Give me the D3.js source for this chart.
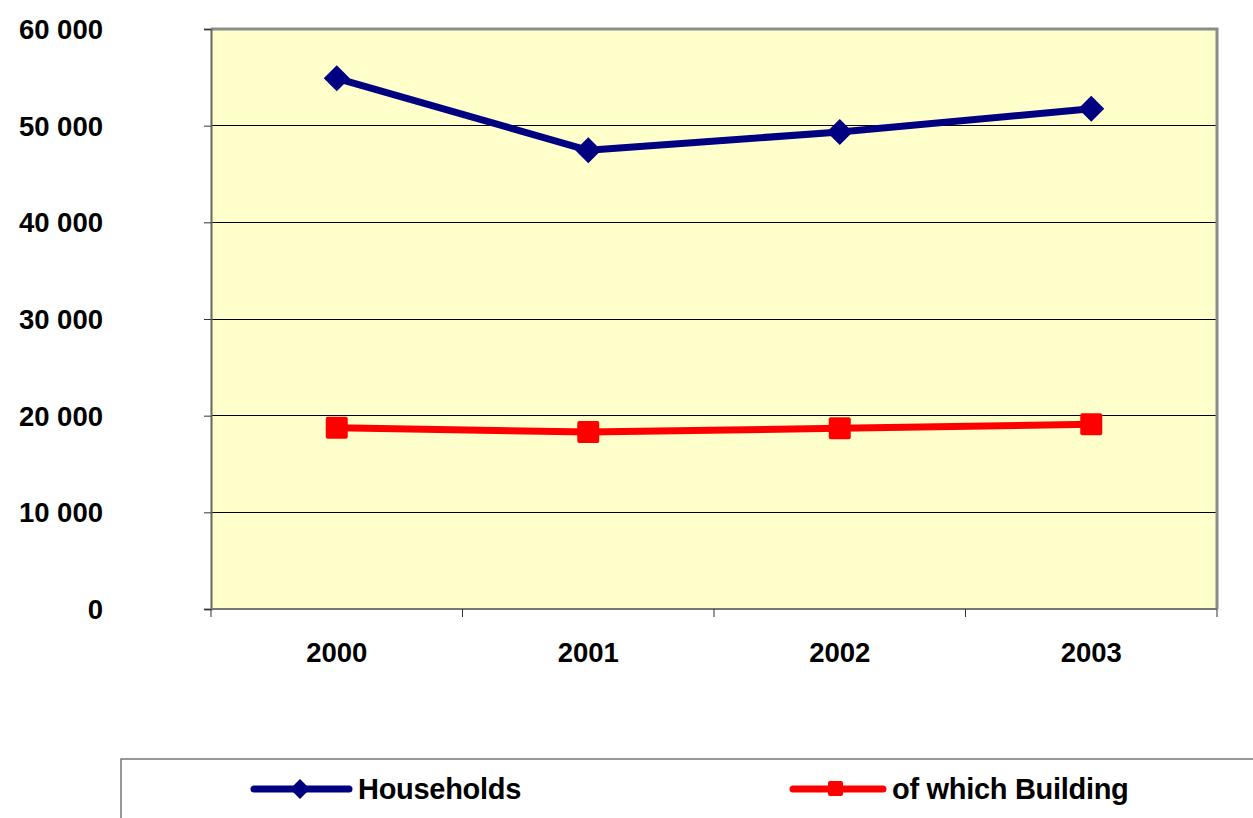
<!DOCTYPE html>
<html>
<head>
<meta charset="utf-8">
<script src="https://cdn.jsdelivr.net/npm/d3@7"></script>
<style>
  html, body { margin: 0; padding: 0; background: #fff; }
  svg { display: block; }
  text { font-family: "Liberation Sans", Arial, sans-serif; font-weight: bold; fill: #000; }
</style>
</head>
<body>
<svg id="chart" width="1253" height="818"></svg>
<script>
// Data
const years = ["2000", "2001", "2002", "2003"];
const households = [54900, 47450, 49350, 51750];
const building = [18750, 18300, 18700, 19100];
const yTicks = [0, 10000, 20000, 30000, 40000, 50000, 60000];
const seriesNames = ["Households", "of which Building"];

const W = 1253, H = 818;
const plot = { left: 211, top: 29, right: 1217, bottom: 609 };

const svg = d3.select("#chart");

const x = d3.scaleBand().domain(years).range([plot.left, plot.right]).padding(0);
const y = d3.scaleLinear().domain([0, 60000]).range([plot.bottom, plot.top]);

const fmt = v => d3.format(",")(v).replace(/,/g, " ");

// Plot background
svg.append("rect")
  .attr("x", plot.left).attr("y", plot.top)
  .attr("width", plot.right - plot.left).attr("height", plot.bottom - plot.top)
  .attr("fill", "#FFFFCC");

// Gridlines
svg.append("g")
  .selectAll("line")
  .data(yTicks.filter(t => t > 0 && t < 60000))
  .join("line")
  .attr("x1", plot.left).attr("x2", plot.right)
  .attr("y1", d => y(d)).attr("y2", d => y(d))
  .attr("stroke", "#000").attr("stroke-width", 1)
  .attr("shape-rendering", "crispEdges");

// Plot border (top and right)
svg.append("path")
  .attr("d", `M${plot.left},${plot.top}H${plot.right}V${plot.bottom}`)
  .attr("fill", "none").attr("stroke", "#8c8c8c").attr("stroke-width", 3);

// Y axis
const yAxis = d3.axisLeft(y).tickValues(yTicks).tickSize(7).tickPadding(0).tickFormat(() => "");
const gy = svg.append("g").attr("transform", `translate(${plot.left},0)`).call(yAxis);
gy.select(".domain").attr("stroke", "#666").attr("stroke-width", 2);
gy.selectAll(".tick line").attr("stroke", "#333").attr("stroke-width", 1);

svg.append("g")
  .selectAll("text")
  .data(yTicks)
  .join("text")
  .attr("x", 103)
  .attr("y", d => y(d))
  .attr("dy", "0.36em")
  .attr("text-anchor", "end")
  .attr("font-size", 27.5)
  .text(d => fmt(d));

// X axis: ticks at category boundaries
const boundaries = years.map(d => x(d)).concat([plot.right]);
const gx = svg.append("g");
gx.append("line")
  .attr("x1", plot.left).attr("x2", plot.right)
  .attr("y1", plot.bottom).attr("y2", plot.bottom)
  .attr("stroke", "#777").attr("stroke-width", 2);
gx.selectAll("line.tick")
  .data(boundaries)
  .join("line")
  .attr("class", "tick")
  .attr("x1", d => d).attr("x2", d => d)
  .attr("y1", plot.bottom).attr("y2", plot.bottom + 8)
  .attr("stroke", "#333").attr("stroke-width", 1);
gx.selectAll("text")
  .data(years)
  .join("text")
  .attr("x", d => x(d) + x.bandwidth() / 2)
  .attr("y", 652)
  .attr("dy", "0.36em")
  .attr("text-anchor", "middle")
  .attr("font-size", 27.5)
  .text(d => d);

const cx = d => x(d) + x.bandwidth() / 2;
const line = d3.line().x(d => cx(d.year)).y(d => y(d.value));

const hhData = years.map((yr, i) => ({ year: yr, value: households[i] }));
const bdData = years.map((yr, i) => ({ year: yr, value: building[i] }));

// Building series
svg.append("path").datum(bdData)
  .attr("d", line).attr("fill", "none")
  .attr("stroke", "#FF0000").attr("stroke-width", 7).attr("stroke-linejoin", "round");
svg.append("g").selectAll("rect")
  .data(bdData).join("rect")
  .attr("x", d => cx(d.year) - 11).attr("y", d => y(d.value) - 11)
  .attr("width", 22).attr("height", 22).attr("rx", 2)
  .attr("fill", "#FF0000");

// Households series
svg.append("path").datum(hhData)
  .attr("d", line).attr("fill", "none")
  .attr("stroke", "#000080").attr("stroke-width", 7).attr("stroke-linejoin", "round");
svg.append("g").selectAll("path")
  .data(hhData).join("path")
  .attr("d", d => {
    const px = cx(d.year), py = y(d.value), r = 13;
    return `M${px},${py - r}L${px + r},${py}L${px},${py + r}L${px - r},${py}Z`;
  })
  .attr("fill", "#000080");

// Legend
const legend = svg.append("g");
legend.append("path")
  .attr("d", `M121,${H + 5}V759H${W + 5}`)
  .attr("fill", "none").attr("stroke", "#777").attr("stroke-width", 1.5);

const legY = 789;
// Households entry
legend.append("line")
  .attr("x1", 254).attr("x2", 349).attr("y1", legY).attr("y2", legY)
  .attr("stroke", "#000080").attr("stroke-width", 7).attr("stroke-linecap", "round");
legend.append("path")
  .attr("d", `M300,${legY - 10}L310,${legY}L300,${legY + 10}L290,${legY}Z`)
  .attr("fill", "#000080");
legend.append("text")
  .attr("x", 358).attr("y", legY).attr("dy", "0.36em")
  .attr("font-size", 29).attr("letter-spacing", -0.3)
  .text(seriesNames[0]);

// Building entry
legend.append("line")
  .attr("x1", 793).attr("x2", 883).attr("y1", legY).attr("y2", legY)
  .attr("stroke", "#FF0000").attr("stroke-width", 7).attr("stroke-linecap", "round");
legend.append("rect")
  .attr("x", 828).attr("y", legY - 8).attr("width", 15).attr("height", 15).attr("rx", 2)
  .attr("fill", "#FF0000");
legend.append("text")
  .attr("x", 892).attr("y", legY).attr("dy", "0.36em")
  .attr("font-size", 29).attr("letter-spacing", -0.3)
  .text(seriesNames[1]);
</script>
</body>
</html>
